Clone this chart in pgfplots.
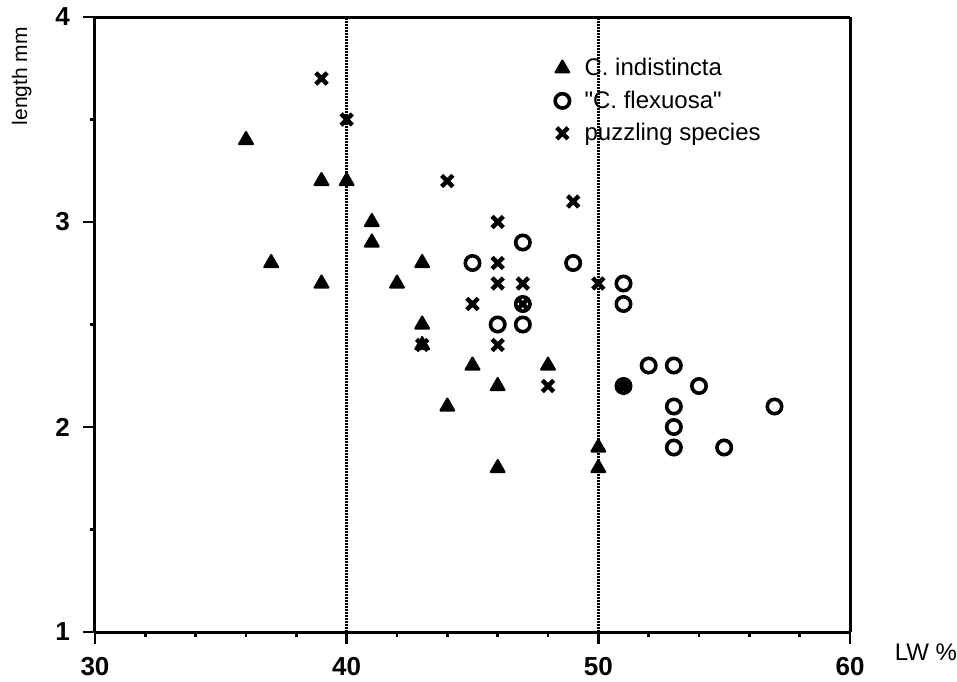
\documentclass[border=0pt]{standalone}
\usepackage{fontspec}
\setmainfont{Liberation Sans}
\usepackage{pgfplots}
\pgfplotsset{compat=1.18}
\usetikzlibrary{calc}

\begin{document}
\begin{tikzpicture}
\begin{axis}[
  name=ax,
  scale only axis,
  width=377.5pt, height=307.5pt,
  xmin=30, xmax=60, ymin=1, ymax=4,
  xtick={30,40,50,60}, ytick={1,2,3,4},
  minor xtick={32,34,36,38,42,44,46,48,52,54,56,58},
  minor ytick={1.5,2.5,3.5},
  tick align=outside,
  xtick pos=bottom, ytick pos=left,
  major tick length=6pt, minor tick length=2.5pt,
  separate axis lines,
  axis line style={line width=1.5pt},
  tick style={black, line width=1.2pt},
  /pgf/number format/assume math mode=true,
  xticklabel style={font=\fontsize{13}{15}\selectfont\bfseries, yshift=-3pt},
  yticklabel style={font=\fontsize{13}{15}\selectfont\bfseries, xshift=-3pt},
  clip=false,
  legend style={at={(rel axis cs:0.609,0.94)}, anchor=north west,
    draw=none, fill=none, font=\fontsize{12}{14}\selectfont,
    row sep=2pt, inner sep=0pt, cells={anchor=west},
    /tikz/every odd column/.append style={column sep=5.5pt}},
]
% dotted reference lines
\addplot[dash pattern=on 1pt off 0.5pt, line width=1.5pt, forget plot] coordinates {(40,1) (40,4)};
\addplot[dash pattern=on 1pt off 0.5pt, line width=1.5pt, forget plot] coordinates {(50,1) (50,4)};

% C. indistincta
\addplot[only marks, mark=triangle*, mark size=4pt, black,
  mark options={line width=1pt, line join=round, fill=black}] coordinates {
  (36,3.4) (37,2.8) (39,3.2) (39,2.7) (40,3.2) (41,3.0) (41,2.9)
  (42,2.7) (43,2.8) (43,2.5) (43,2.4) (44,2.1) (45,2.3) (46,2.2)
  (46,1.8) (48,2.3) (50,1.9) (50,1.8) (51,2.2)
};
\addlegendentry{C. indistincta}

% "C. flexuosa"
\addplot[only marks, mark=o, mark size=3.6pt, black,
  mark options={line width=1.8pt}] coordinates {
  (45,2.8) (47,2.9) (49,2.8) (46,2.5) (47,2.5) (47,2.6) (51,2.7)
  (51,2.6) (52,2.3) (53,2.3) (51,2.2) (54,2.2) (53,2.1) (53,2.0)
  (53,1.9) (55,1.9) (57,2.1)
};
\addlegendentry{\textquotedbl C. flexuosa\textquotedbl}

% puzzling species
\addplot[only marks, mark=x, mark size=4pt, black,
  mark options={line width=2.2pt}] coordinates {
  (39,3.7) (40,3.5) (44,3.2) (46,3.0) (49,3.1) (46,2.8) (46,2.7)
  (47,2.7) (45,2.6) (43,2.4) (46,2.4) (48,2.2) (50,2.7) (47,2.6)
  (51,2.2)
};
\addlegendentry{puzzling species}

\node[rotate=90, anchor=east, font=\fontsize{10.5}{12}\selectfont]
  at (rel axis cs:-0.097,0.995) {length mm};
\node[anchor=west, font=\fontsize{12}{14}\selectfont]
  at (rel axis cs:1.05,-0.0325) {LW \%};
\end{axis}
\pgfresetboundingbox
\path ($(ax.south west)+(-47.5pt,-24.5pt)$) rectangle ($(ax.north east)+(53.5pt,8.5pt)$);
\end{tikzpicture}
\end{document}
